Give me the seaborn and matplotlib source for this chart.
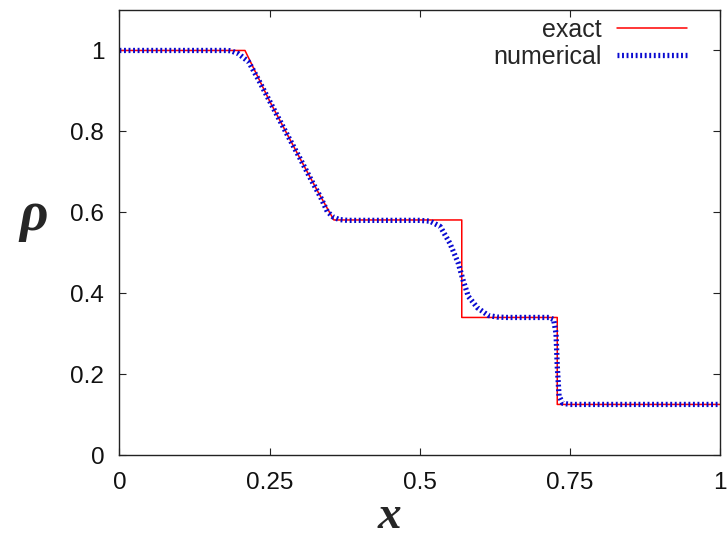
import seaborn as sns
import matplotlib.pyplot as plt
import pandas as pd

# exact solution (density profile)
x_exact = [0.0, 0.209, 0.25, 0.30, 0.33, 0.357, 0.570, 0.570, 0.729, 0.729, 1.0]
rho_exact = [1.0, 1.0, 0.875, 0.735, 0.652, 0.581, 0.581, 0.34, 0.34, 0.125, 0.125]

# numerical solution
x_num = [0.0, 0.18, 0.186, 0.198, 0.215, 0.23, 0.25, 0.28, 0.30, 0.32, 0.335,
         0.346, 0.356, 0.366, 0.38, 0.50, 0.517, 0.534, 0.550, 0.564, 0.572,
         0.581, 0.596, 0.614, 0.629, 0.645, 0.715, 0.723, 0.727, 0.729, 0.732,
         0.738, 0.75, 1.0]
rho_num = [1.0, 1.0, 0.999, 0.992, 0.972, 0.932, 0.875, 0.79, 0.735, 0.678, 0.637,
           0.602, 0.588, 0.582, 0.58, 0.58, 0.578, 0.565, 0.524, 0.475, 0.433,
           0.392, 0.364, 0.345, 0.341, 0.34, 0.34, 0.335, 0.30, 0.22, 0.146,
           0.128, 0.125, 0.125]

exact = pd.DataFrame({"x": x_exact, "rho": rho_exact})
num = pd.DataFrame({"x": x_num, "rho": rho_num})

sns.set_theme(style="ticks")
plt.rcParams["font.family"] = ["Liberation Sans", "DejaVu Sans"]
plt.rcParams.update({
    "xtick.direction": "in", "ytick.direction": "in",
    "xtick.top": True, "ytick.right": True,
    "xtick.major.size": 5, "ytick.major.size": 5,
    "xtick.major.width": 0.8, "ytick.major.width": 0.8,
    "axes.linewidth": 1.0, "axes.edgecolor": "#222222",
    "xtick.color": "#222222", "ytick.color": "#222222",
})

fig = plt.figure(figsize=(7.28, 5.44), dpi=100)
ax = fig.add_axes([0.1641, 0.1636, 0.8249, 0.818])

sns.lineplot(data=exact, x="x", y="rho", ax=ax, sort=False, estimator=None,
             color="#ff0000", lw=1.1, label="exact")
sns.lineplot(data=num, x="x", y="rho", ax=ax, sort=False, estimator=None,
             color="#0a0ad0", lw=3.8, linestyle=(0, (0.36, 0.5)),
             label="numerical")

ax.set_xlim(0, 1)
ax.set_ylim(0, 1.1)
ax.set_xticks([0, 0.25, 0.5, 0.75, 1])
ax.set_xticklabels(["0", "0.25", "0.5", "0.75", "1"])
ax.set_yticks([0, 0.2, 0.4, 0.6, 0.8, 1])
ax.set_yticklabels(["0", "0.2", "0.4", "0.6", "0.8", "1"])
ax.tick_params(axis="both", labelsize=17.5, labelcolor="#111111")
ax.tick_params(axis="y", pad=11)
ax.tick_params(axis="x", pad=12)
ax.set_xlabel("")
ax.set_ylabel("")

fig.text(389 / 728, 1 - 517 / 544, "x", fontsize=34, fontweight="bold",
         fontstyle="italic", family="Liberation Serif", ha="center", va="center")
fig.text(34 / 728, 1 - 216 / 544, "\u03c1", fontsize=40, fontweight="bold",
         fontstyle="italic", family="Liberation Serif", ha="center", va="center")

ax.legend(loc="upper right", bbox_to_anchor=(0.945, 0.982), frameon=False,
          markerfirst=False, fontsize=18, handlelength=2.8, handletextpad=0.6,
          labelspacing=0.1, borderpad=0, borderaxespad=0)

fig.savefig("out.png", dpi=100)
